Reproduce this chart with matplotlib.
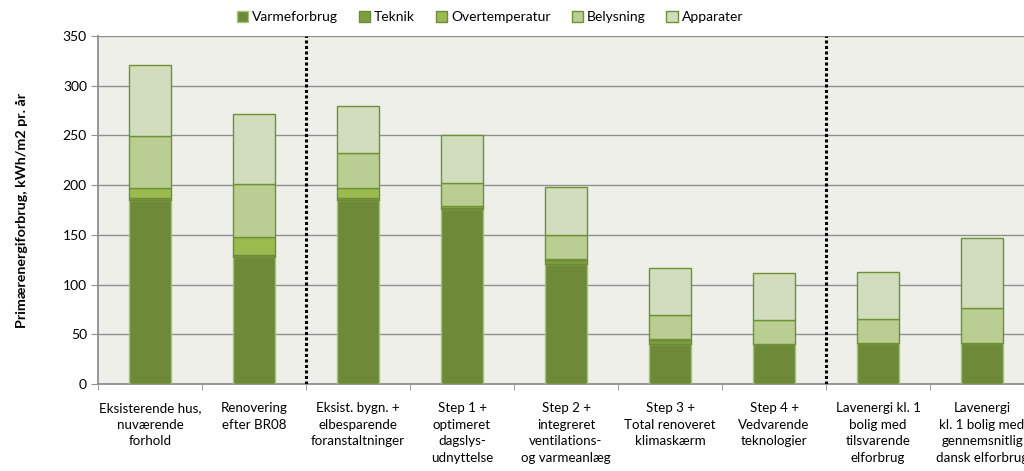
import matplotlib
matplotlib.use("Agg")
import matplotlib.pyplot as plt
import numpy as np

plt.rcParams['font.family'] = ['Lato', 'DejaVu Sans']

CATEGORIES = [
    "Eksisterende hus,\nnuværende\nforhold",
    "Renovering\nefter BR08",
    "Eksist. bygn. +\nelbesparende\nforanstaltninger",
    "Step 1 +\noptimeret\ndagslys-\nudnyttelse",
    "Step 2 +\nintegreret\nventilations-\nog varmeanlæg",
    "Step 3 +\nTotal renoveret\nklimaskærm",
    "Step 4 +\nVedvarende\nteknologier",
    "Lavenergi kl. 1\nbolig med\ntilsvarende\nelforbrug",
    "Lavenergi\nkl. 1 bolig med\ngennemsnitlig\ndansk elforbrug",
]

VARMEFORBRUG = [185, 128, 185, 176, 121, 40, 40, 41, 41]
TEKNIK = [2, 2, 2, 1.5, 4, 4, 0, 0, 0]
OVERTEMPERATUR = [10, 18, 10, 1.5, 1, 1, 0, 0, 0]
BELYSNING = [52, 53, 35, 23, 24, 24, 24, 24, 35]
APPARATER = [72, 71, 48, 48, 48, 48, 48, 48, 71]

SERIES = [
    ("Varmeforbrug", VARMEFORBRUG, "#6c8a37", "#a9c27a"),
    ("Teknik", TEKNIK, "#7f9f3f", "#6c8a37"),
    ("Overtemperatur", OVERTEMPERATUR, "#9bbb4f", "#6c8a37"),
    ("Belysning", BELYSNING, "#bacd92", "#6f9136"),
    ("Apparater", APPARATER, "#d1ddbd", "#6f9136"),
]

fig = plt.figure(figsize=(10.24, 4.71), dpi=100)
ax = fig.add_axes([98 / 1024, 1 - 384 / 471, 936 / 1024, 348 / 471])
ax.set_facecolor("#edefe8")

x = np.arange(len(CATEGORIES))
bottom = np.zeros(len(CATEGORIES))
for name, vals, color, edge in SERIES:
    vals = np.array(vals, dtype=float)
    ax.bar(x, vals, width=0.4, bottom=bottom, color=color, edgecolor=edge,
           linewidth=1.0, label=name, zorder=3)
    bottom += vals

ax.set_ylim(0, 350)
ax.set_xlim(-0.5, len(CATEGORIES) - 0.5)
ax.set_yticks(np.arange(0, 351, 50))
ax.yaxis.grid(True, color="#8f8f8f", linewidth=1.0, zorder=0)
ax.set_axisbelow(True)

ax.set_xticks(x)
ax.set_xticklabels(CATEGORIES, fontsize=9.6, linespacing=1.45)
ax.set_xticks(np.arange(-0.5, len(CATEGORIES), 1.0), minor=True)
ax.tick_params(axis='x', which='major', length=0, pad=13)
ax.tick_params(axis='x', which='minor', length=4, color="#8f8f8f", direction='out')
ax.tick_params(axis='y', length=5, color="#8f8f8f", labelsize=10, pad=3)

for side in ("top", "right"):
    ax.spines[side].set_visible(False)
ax.spines["left"].set_color("#8f8f8f")
ax.spines["bottom"].set_color("#8f8f8f")
ax.spines["left"].set_linewidth(1.3)
ax.spines["bottom"].set_linewidth(1.3)

# dotted separators between the groups of scenarios
for pos in (1.5, 6.5):
    ax.axvline(pos, color="black", linestyle=(0, (1, 0.8)), linewidth=2.2, zorder=4)

ax.set_ylabel("Primærenergiforbrug, kWh/m2 pr. år", fontsize=10.3,
              fontweight='bold', labelpad=25)

fig.legend(loc="center", bbox_to_anchor=(490 / 1024, 1 - 17 / 471), ncol=5,
           frameon=False, fontsize=10, handlelength=0.8, handleheight=0.8,
           handletextpad=0.3, columnspacing=1.5)

fig.savefig("out.png", dpi=100)
